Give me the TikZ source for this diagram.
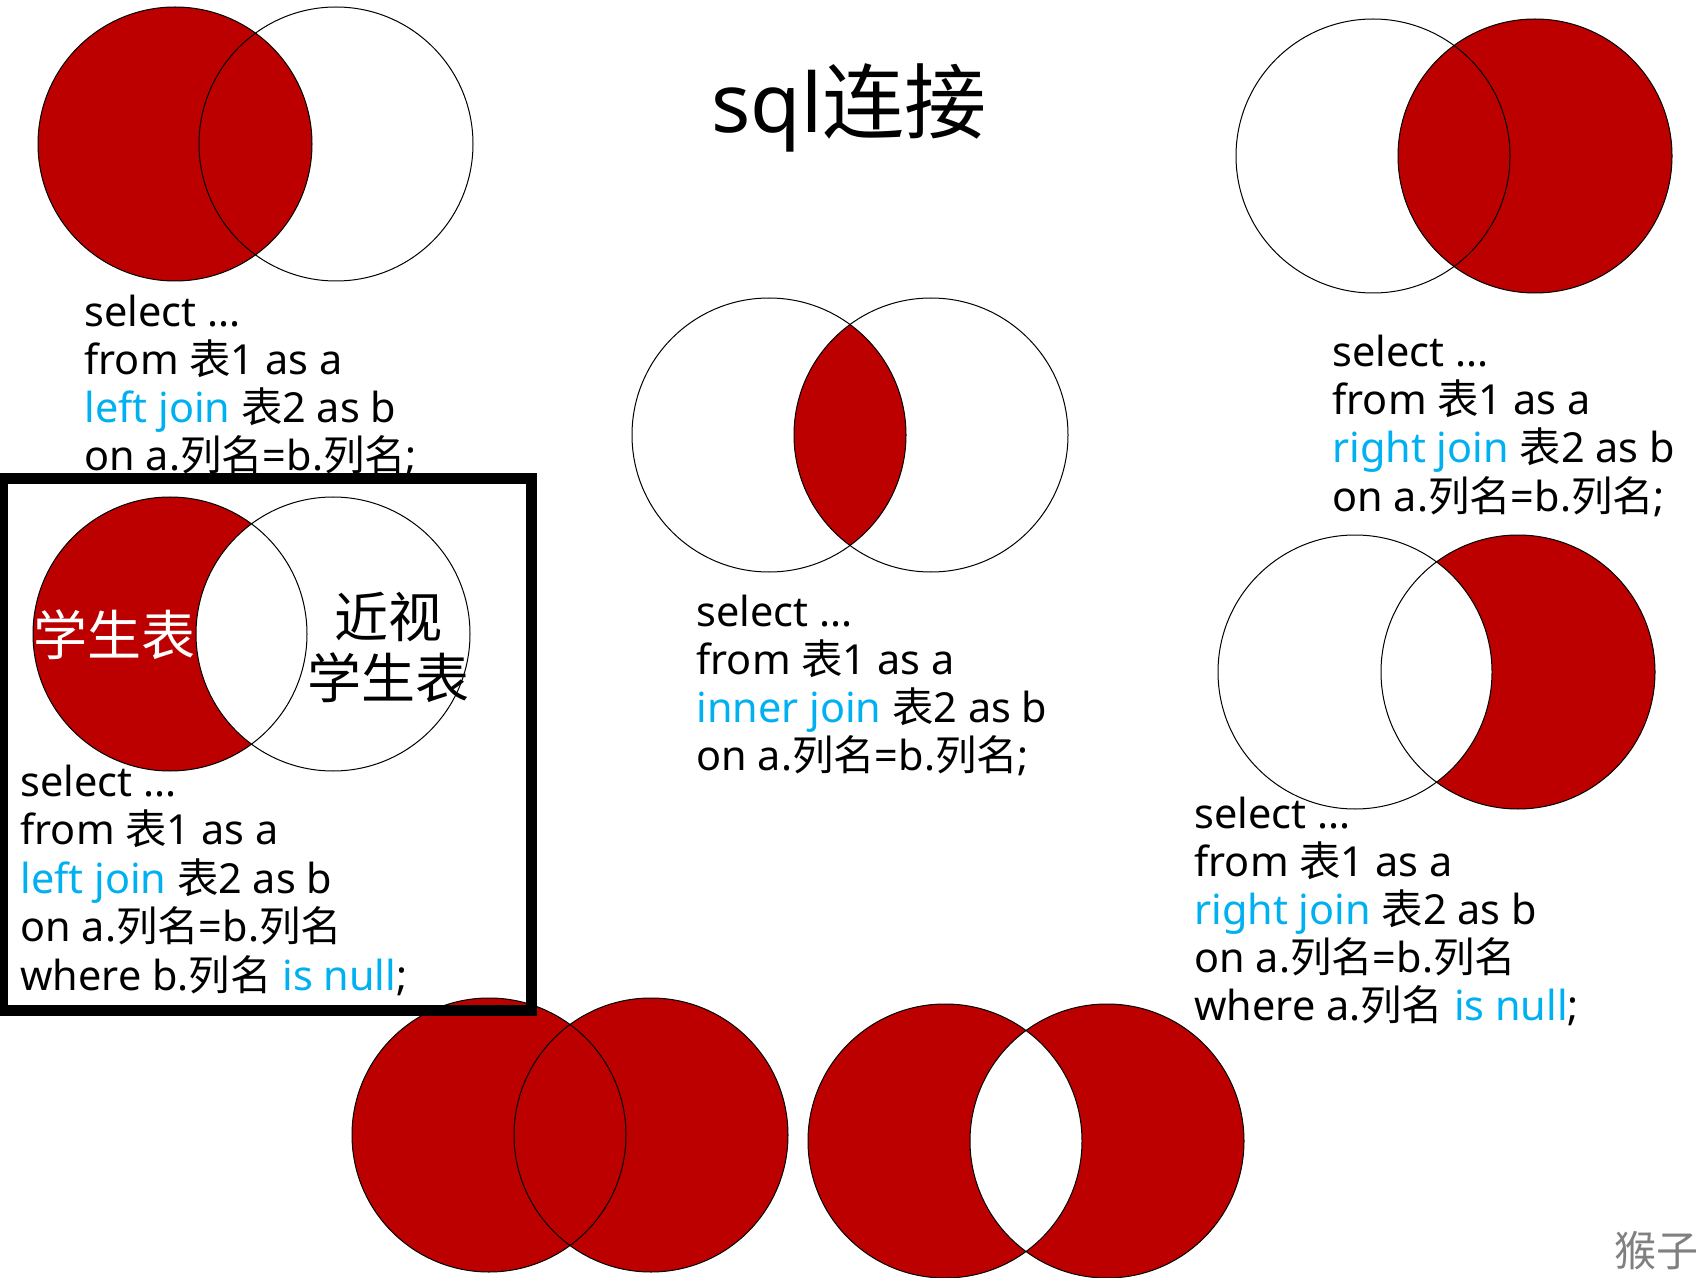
\documentclass[tikz,border=0pt]{standalone}
\usepackage{fontspec}
\setmainfont{Noto Sans}
\newfontfamily\cjk{Noto Sans CJK SC}
\newcommand\zh[1]{{\cjk #1}}
\definecolor{jred}{RGB}{188,0,0}
\definecolor{jblue}{RGB}{0,176,240}
\newcommand\bl[1]{\textcolor{jblue}{#1}}
\newcommand\circr{68.5pt}
\begin{document}
\begin{tikzpicture}[x=0.5pt,y=-0.5pt,
  code/.style={anchor=base west, inner sep=0pt, font=\fontsize{20.7pt}{24pt}\selectfont},
  ring/.style={draw=black, line width=0.5pt},
  frame/.style={draw=black, line width=5.5pt},
  big/.style={inner sep=0pt, font=\fontsize{27pt}{32pt}\selectfont}]
\useasboundingbox (0,0) rectangle (1703,1278);
\fill[white] (0,0) rectangle (1703,1278);
% circle centres
\coordinate (v1a) at (175,144);  \coordinate (v1b) at (336,144);
\coordinate (v2a) at (769,435);  \coordinate (v2b) at (931,435);
\coordinate (v3a) at (1373,156); \coordinate (v3b) at (1535,156);
\coordinate (v4a) at (1355,672); \coordinate (v4b) at (1518,672);
\coordinate (v5a) at (170,634);  \coordinate (v5b) at (333,634);
\coordinate (v6a) at (489,1135); \coordinate (v6b) at (651,1135);
\coordinate (v7a) at (945,1141); \coordinate (v7b) at (1107,1141);
% V1 left join
\fill[jred] (v1a) circle[radius=\circr];
\draw[ring] (v1a) circle[radius=\circr];
\draw[ring] (v1b) circle[radius=\circr];
% V2 inner join
\begin{scope}
  \clip (v2a) circle[radius=\circr];
  \fill[jred] (v2b) circle[radius=\circr];
\end{scope}
\draw[ring] (v2a) circle[radius=\circr];
\draw[ring] (v2b) circle[radius=\circr];
% V3 right join
\fill[jred] (v3b) circle[radius=\circr];
\draw[ring] (v3a) circle[radius=\circr];
\draw[ring] (v3b) circle[radius=\circr];
% V4 right join, a is null
\fill[jred] (v4b) circle[radius=\circr];
\begin{scope}
  \clip (v4a) circle[radius=\circr];
  \fill[white] (v4b) circle[radius=\circr];
\end{scope}
\draw[ring] (v4a) circle[radius=\circr];
\draw[ring] (v4b) circle[radius=\circr];
% V5 left join, b is null
\fill[jred] (v5a) circle[radius=\circr];
\begin{scope}
  \clip (v5b) circle[radius=\circr];
  \fill[white] (v5a) circle[radius=\circr];
\end{scope}
\draw[ring] (v5a) circle[radius=\circr];
\draw[ring] (v5b) circle[radius=\circr];
% V6 full join
\fill[jred] (v6a) circle[radius=\circr];
\fill[jred] (v6b) circle[radius=\circr];
\draw[ring] (v6a) circle[radius=\circr];
\draw[ring] (v6b) circle[radius=\circr];
% V7 full join minus intersection
\fill[jred] (v7a) circle[radius=\circr];
\fill[jred] (v7b) circle[radius=\circr];
\begin{scope}
  \clip (v7a) circle[radius=\circr];
  \fill[white] (v7b) circle[radius=\circr];
\end{scope}
\draw[ring] (v7a) circle[radius=\circr];
\draw[ring] (v7b) circle[radius=\circr];
% title
\node[anchor=base west, inner sep=0pt, font=\fontsize{41pt}{48pt}\selectfont] (title) at (711,133) {sql\zh{连接}};
% text 1
\node[code] (t1a) at (84,327) {select ...};
\node[code] (t1b) at (84,375) {from \zh{表}1 as a};
\node[code] (t1c) at (84,423) {\bl{left join} \zh{表}2 as b};
\node[code] (t1d) at (84,471) {on a.\zh{列名}=b.\zh{列名};};
% text 2
\node[code] (t2a) at (696,626) {select ...};
\node[code] (t2b) at (696,674) {from \zh{表}1 as a};
\node[code] (t2c) at (696,722) {\bl{inner join} \zh{表}2 as b};
\node[code] (t2d) at (696,770) {on a.\zh{列名}=b.\zh{列名};};
% text 3
\node[code] (t3a) at (1332,367) {select ...};
\node[code] (t3b) at (1332,415) {from \zh{表}1 as a};
\node[code] (t3c) at (1332,463) {\bl{right join} \zh{表}2 as b};
\node[code] (t3d) at (1332,511) {on a.\zh{列名}=b.\zh{列名};};
% text 4
\node[code] (t4a) at (1194,828) {select ...};
\node[code] (t4b) at (1194,876) {from \zh{表}1 as a};
\node[code] (t4c) at (1194,924) {\bl{right join} \zh{表}2 as b};
\node[code] (t4d) at (1194,972) {on a.\zh{列名}=b.\zh{列名}};
\node[code] (t4e) at (1194,1020) {where a.\zh{列名} \bl{is null};};
% text 5
\node[code] (t5a) at (20,796) {select ...};
\node[code] (t5b) at (20,844) {from \zh{表}1 as a};
\node[code] (t5c) at (20,893) {\bl{left join} \zh{表}2 as b};
\node[code] (t5d) at (20,941) {on a.\zh{列名}=b.\zh{列名}};
\node[code] (t5e) at (20,990) {where b.\zh{列名} \bl{is null};};
% labels in boxed venn
\node[big, text=white] (lstu) at (114,635) {\zh{学生表}};
\node[big] (lmy1) at (388,617) {\zh{近视}};
\node[big] (lmy2) at (388,678) {\zh{学生表}};
% frame
\coordinate (boxnw) at (2,479);
\coordinate (boxse) at (531,1010);
\draw[frame] (boxnw) rectangle (boxse);
% watermark
\node[inner sep=0pt, text=gray, font=\fontsize{21pt}{25pt}\selectfont] (wm) at (1656,1251) {\zh{猴子}};
\end{tikzpicture}
\end{document}
